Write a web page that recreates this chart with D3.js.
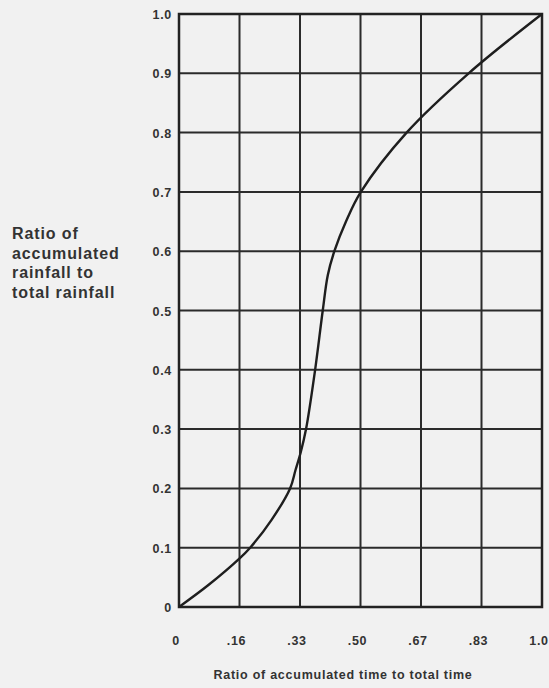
<!DOCTYPE html>
<html>
<head>
<meta charset="utf-8">
<script src="https://cdn.jsdelivr.net/npm/d3@7"></script>
<style>
  body { margin: 0; background: #f1f1f1; }
  svg { display: block; font-family: "Liberation Sans", Arial, sans-serif; }
</style>
</head>
<body>
<div id="chart"></div>
<script>
// tick values and labels as printed on the chart
var xTicks = [0, 1/6, 2/6, 3/6, 4/6, 5/6, 1];
var xTickLabels = ["0", ".16", ".33", ".50", ".67", ".83", "1.0"];
var yTicks = [0, 0.1, 0.2, 0.3, 0.4, 0.5, 0.6, 0.7, 0.8, 0.9, 1.0];
var yTickLabels = ["0", "0.1", "0.2", "0.3", "0.4", "0.5", "0.6", "0.7", "0.8", "0.9", "1.0"];

// curve
var timeRatio = [0, 0.081, 0.167, 0.196, 0.255, 0.306, 0.321, 0.335, 0.350, 0.375, 0.396, 0.41, 0.428, 0.46, 0.501, 0.627, 0.798, 1.0];
var rainRatio = [0, 0.037, 0.082, 0.1, 0.147, 0.2, 0.231, 0.26, 0.3, 0.4, 0.5, 0.56, 0.6, 0.65, 0.7, 0.8, 0.9, 1.0];

var yTitle = ["Ratio of", "accumulated", "rainfall to", "total rainfall"];
var xTitle = "Ratio of accumulated time to total time";

var width = 549, height = 688;
// plot box (note: "top" is a window global, so use other names)
var pLeft = 179, pRight = 542, pTop = 14, pBottom = 607;

var svg = d3.select("#chart").append("svg")
    .attr("width", width)
    .attr("height", height);

var x = d3.scaleLinear().domain([0, 1]).range([pLeft, pRight]);
var y = d3.scaleLinear().domain([0, 1]).range([pBottom, pTop]);

// grid
svg.append("g").selectAll("line")
    .data(xTicks)
    .enter().append("line")
    .attr("x1", d => x(d)).attr("x2", d => x(d))
    .attr("y1", pTop).attr("y2", pBottom)
    .style("stroke", "#2b2b2b").style("stroke-width", 2);

svg.append("g").selectAll("line")
    .data(yTicks)
    .enter().append("line")
    .attr("x1", pLeft).attr("x2", pRight)
    .attr("y1", d => y(d)).attr("y2", d => y(d))
    .style("stroke", "#2b2b2b").style("stroke-width", 2);

svg.append("rect")
    .attr("x", pLeft).attr("y", pTop)
    .attr("width", pRight - pLeft).attr("height", pBottom - pTop)
    .style("fill", "none").style("stroke", "#222").style("stroke-width", 2.5);

// tick labels
svg.append("g").selectAll("text")
    .data(yTicks)
    .enter().append("text")
    .attr("x", 172)
    .attr("y", d => y(d) + 5)
    .attr("text-anchor", "end")
    .style("font-size", "12.5px").style("font-weight", "bold").style("letter-spacing", "0.7px")
    .style("fill", "#333")
    .text((d, i) => yTickLabels[i]);

svg.append("g").selectAll("text")
    .data(xTicks)
    .enter().append("text")
    .attr("x", d => x(d) - 3)
    .attr("y", 645)
    .attr("text-anchor", "middle")
    .style("font-size", "12.5px").style("font-weight", "bold").style("letter-spacing", "0.7px")
    .style("fill", "#333")
    .text((d, i) => xTickLabels[i]);

// titles
svg.append("text")
    .attr("x", 343).attr("y", 679)
    .attr("text-anchor", "middle")
    .style("font-size", "12.5px").style("font-weight", "bold").style("letter-spacing", "0.75px")
    .style("fill", "#333")
    .text(xTitle);

svg.append("g").selectAll("text")
    .data(yTitle)
    .enter().append("text")
    .attr("x", 12)
    .attr("y", (d, i) => 239 + i * 19.5)
    .style("font-size", "16px").style("font-weight", "bold").style("letter-spacing", "0.9px")
    .style("fill", "#333")
    .text(d => d);

// curve
var pts = timeRatio.map((t, i) => [t, rainRatio[i]]);
var line = d3.line()
    .x(d => x(d[0]))
    .y(d => y(d[1]))
    .curve(d3.curveCatmullRom.alpha(0.5));

svg.append("path")
    .datum(pts)
    .attr("d", line)
    .style("fill", "none").style("stroke", "#1e1e1e").style("stroke-width", 2.4);
</script>
</body>
</html>
